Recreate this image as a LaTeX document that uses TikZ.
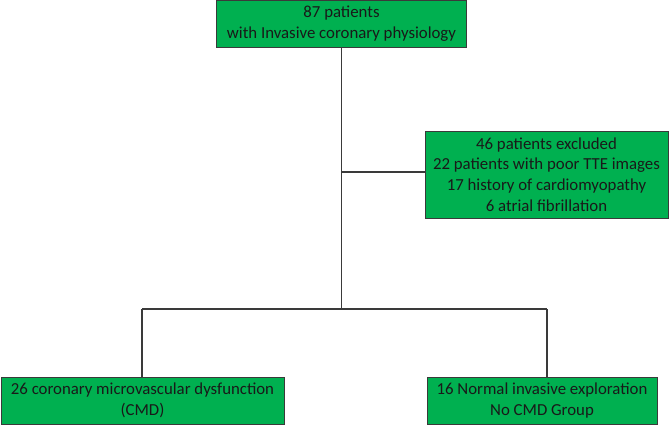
\documentclass[tikz,border=0pt]{standalone}
\usepackage{fontspec}
\setmainfont{Carlito}
\definecolor{boxgreen}{HTML}{00B050}
\definecolor{edgegray}{HTML}{3A3A3A}
\begin{document}
\begin{tikzpicture}[x=1pt,y=-1pt,
  gbox/.style={draw=edgegray,line width=0.8pt,fill=boxgreen,align=center,inner sep=0pt,
    font=\fontsize{16.8}{20.8}\selectfont,text=black!90},
  conn/.style={draw=edgegray,line width=1.3pt}]
\useasboundingbox (0,0) rectangle (669,425);
\node[gbox,minimum width=250pt,minimum height=47pt] (top) at (341.5,23.5) {87 patients\\with Invasive coronary physiology};
\node[gbox,minimum width=243pt,minimum height=87pt] (excl) at (546.5,174.5) {46 patients excluded\\22 patients with poor TTE images\\17 history of cardiomyopathy\\6 atrial fibrillation};
\node[gbox,minimum width=283pt,minimum height=47pt] (bl) at (142.5,400.5) {26 coronary microvascular dysfunction\\(CMD)};
\node[gbox,minimum width=230pt,minimum height=47pt] (br) at (542,400.5) {16 Normal invasive exploration\\No CMD Group};
\coordinate (split) at (341.5,309);
\coordinate (ex) at (341.5,172);
\coordinate (jl) at (142,309);
\coordinate (jr) at (547,309);
\draw[conn] (top.south) -- (split);
\draw[conn] (ex) -- (excl.west |- ex);
\draw[conn] (jl) -- (jr);
\draw[conn] (jl) -- (bl.north -| jl);
\draw[conn] (jr) -- (br.north -| jr);
\end{tikzpicture}
\end{document}
